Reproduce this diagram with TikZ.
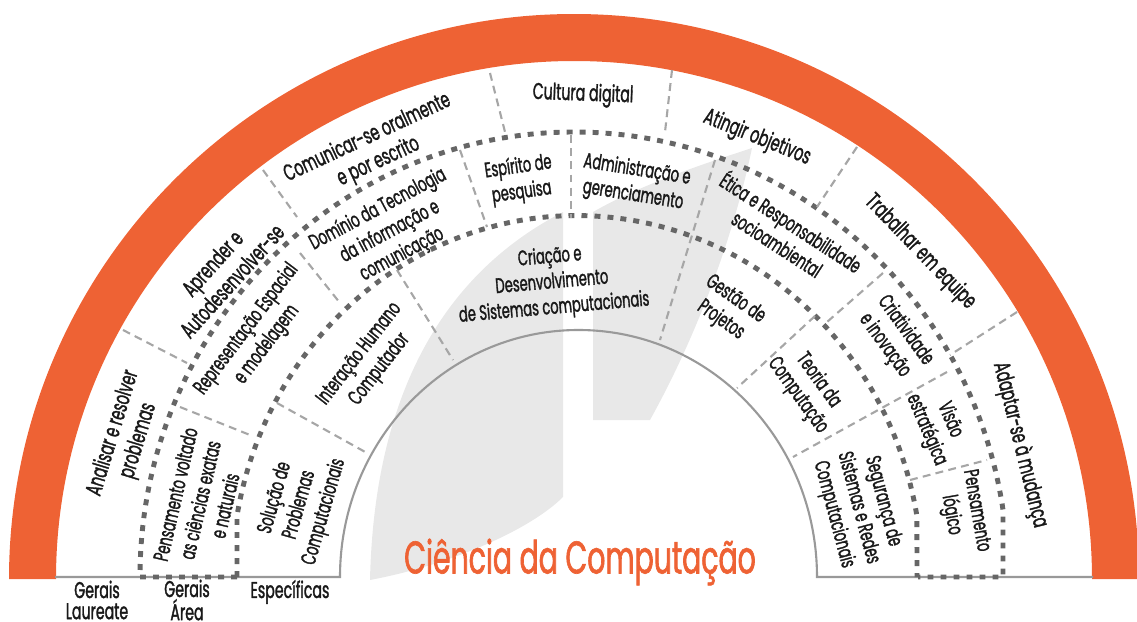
\documentclass[tikz,border=0pt]{standalone}
\usepackage{fontspec}
\setmainfont{Poppins}[FakeStretch=0.62, FakeBold=1.4]
\definecolor{laranja}{RGB}{238,98,52}
\definecolor{folha}{RGB}{232,232,232}
\tikzset{
  sep/.style={gray!70, line width=1.2pt, dash pattern=on 4.5pt off 3pt},
  anel/.style={black!60, line width=2.8pt, dash pattern=on 3.4pt off 4pt},
  lab/.style={align=center, inner sep=0pt, text=black!90, font=\fontsize{13}{15}\selectfont},
  labm/.style={lab, font=\fontsize{12}{14.5}\selectfont},
  rodape/.style={lab, font=\fontsize{13}{12}\selectfont}
}

\begin{document}
\begin{tikzpicture}[x=0.02cm, y=-0.02cm]
		\useasboundingbox (0,0) rectangle (1137,622);
		% folha cinza ao fundo
		\fill [folha] (563,212) .. controls (470,260) and (375,360) .. (370,580) .. controls (450,565) and (530,530) .. (563,497) -- cycle;
		\fill [folha] (593,212) .. controls (640,185) and (700,165) .. (752,148) .. controls (735,230) and (700,330) .. (650,420) -- (593,420) -- cycle;
		% arco laranja
		\fill [laranja] (9,579) arc[start angle=180, end angle=360, radius=565] -- (1092,579) arc[start angle=360, end angle=180, radius=518] -- cycle;
		% base e arco interno
		\draw [black!40, line width=1.2pt] (55,577) -- (340,577) arc[start angle=180, end angle=360, x radius=238.5, y radius=247] -- (1093,577);
		% aneis pontilhados
		\draw [anel] (237,577) -- (140,577) arc[start angle=180, end angle=351.3, x radius=434, y radius=445] -- (1003,577) -- (918,577);
		\draw [anel] (237,577) -- (237,516) arc[start angle=189.8, end angle=350.2, x radius=345, y radius=362] -- (917,577);
		% divisoes
		\draw [sep] (123,330) -- (187,363);
		\draw [sep] (263,170) -- (297,217);
		\draw [sep] (490,73) -- (505,132);
		\draw [sep] (672,70) -- (665,132);
		\draw [sep] (857,147) -- (817,207);
		\draw [sep] (1017,312) -- (950,355);
		\draw [sep] (180,407) -- (250,435);
		\draw [sep] (300,253) -- (340,303);
		\draw [sep] (460,150) -- (487,227);
		\draw [sep] (571,135) -- (571,218);
		\draw [sep] (715,160) -- (660,340);
		\draw [sep] (883,273) -- (827,322);
		\draw [sep] (947,372) -- (793,457);
		\draw [sep] (910,480) -- (987,460);
		\draw [sep] (277,403) -- (367,453);
		\draw [sep] (397,270) -- (453,360);
		\draw [sep] (815,316) -- (737,388);
		% Gerais Laureate
		\node [lab, rotate=73] (analisar) at (126,437) {Analisar e resolver\\problemas};
		\node [lab, rotate=48] (aprender) at (222,272) {Aprender e\\Autodesenvolver-se};
		\node [lab, rotate=25] (comunicar) at (373,150) {Comunicar-se oralmente\\e por escrito};
		\node [lab, rotate=-2] (cultura) at (583,95) {Cultura digital};
		\node [lab, rotate=-22] (atingir) at (757,138) {Atingir objetivos};
		\node [lab, rotate=-46] (trabalhar) at (920,252) {Trabalhar em equipe};
		\node [lab, rotate=-76] (adaptar) at (1020,445) {Adaptar-se à mudança};
		% Gerais Area
		\node [labm, rotate=77] (exatas) at (200,500) {Pensamento voltado\\as ciências exatas\\e naturais};
		\node [labm, rotate=53] (espacial) at (257,337) {Representação Espacial\\e modelagem};
		\node [labm, rotate=28] (dominio) at (390,232) {Domínio da Tecnologia\\da informação e\\comunicação};
		\node [labm, rotate=8] (pesquisa) at (520,180) {Espírito de\\pesquisa};
		\node [labm, rotate=-9] (gerencia) at (635,183) {Administração e\\gerenciamento};
		\node [labm, rotate=-33] (etica) at (785,232) {Ética e Responsabilidade\\socioambiental};
		\node [labm, rotate=-54] (criatividade) at (895,338) {Criatividade\\e inovação};
		\node [labm, rotate=-67] (visao) at (938,425) {Visão\\estratégica};
		\node [labm, rotate=-80] (logico) at (963,513) {Pensamento\\lógico};
		% Especificas
		\node [labm, rotate=74] (solucao) at (300,505) {Solução de\\Problemas\\Computacionais};
		\node [labm, rotate=52] (interacao) at (370,362) {Interação Humano\\Computador};
		\node [labm, rotate=5] (criacao) at (552,283) {Criação e\\Desenvolvimento\\de Sistemas computacionais};
		\node [labm, rotate=-35] (gestao) at (728,310) {Gestão de\\Projetos};
		\node [labm, rotate=-54] (teoria) at (808,388) {Teoria da\\Computação};
		\node [labm, rotate=-75] (seguranca) at (858,508) {Segurança de\\Sistemas e Redes\\Computacionais};
		% rodape
		\node [rodape] (laureate) at (97,600) {Gerais\\Laureate};
		\node [rodape] (area) at (187,600) {Gerais\\Área};
		\node [rodape] (especificas) at (290,592) {Específicas};
		\node [text=laranja, inner sep=0pt, font=\fontsize{26}{26}\selectfont] (curso) at (580,562) {Ciência da Computação};
	\end{tikzpicture}
\end{document}
